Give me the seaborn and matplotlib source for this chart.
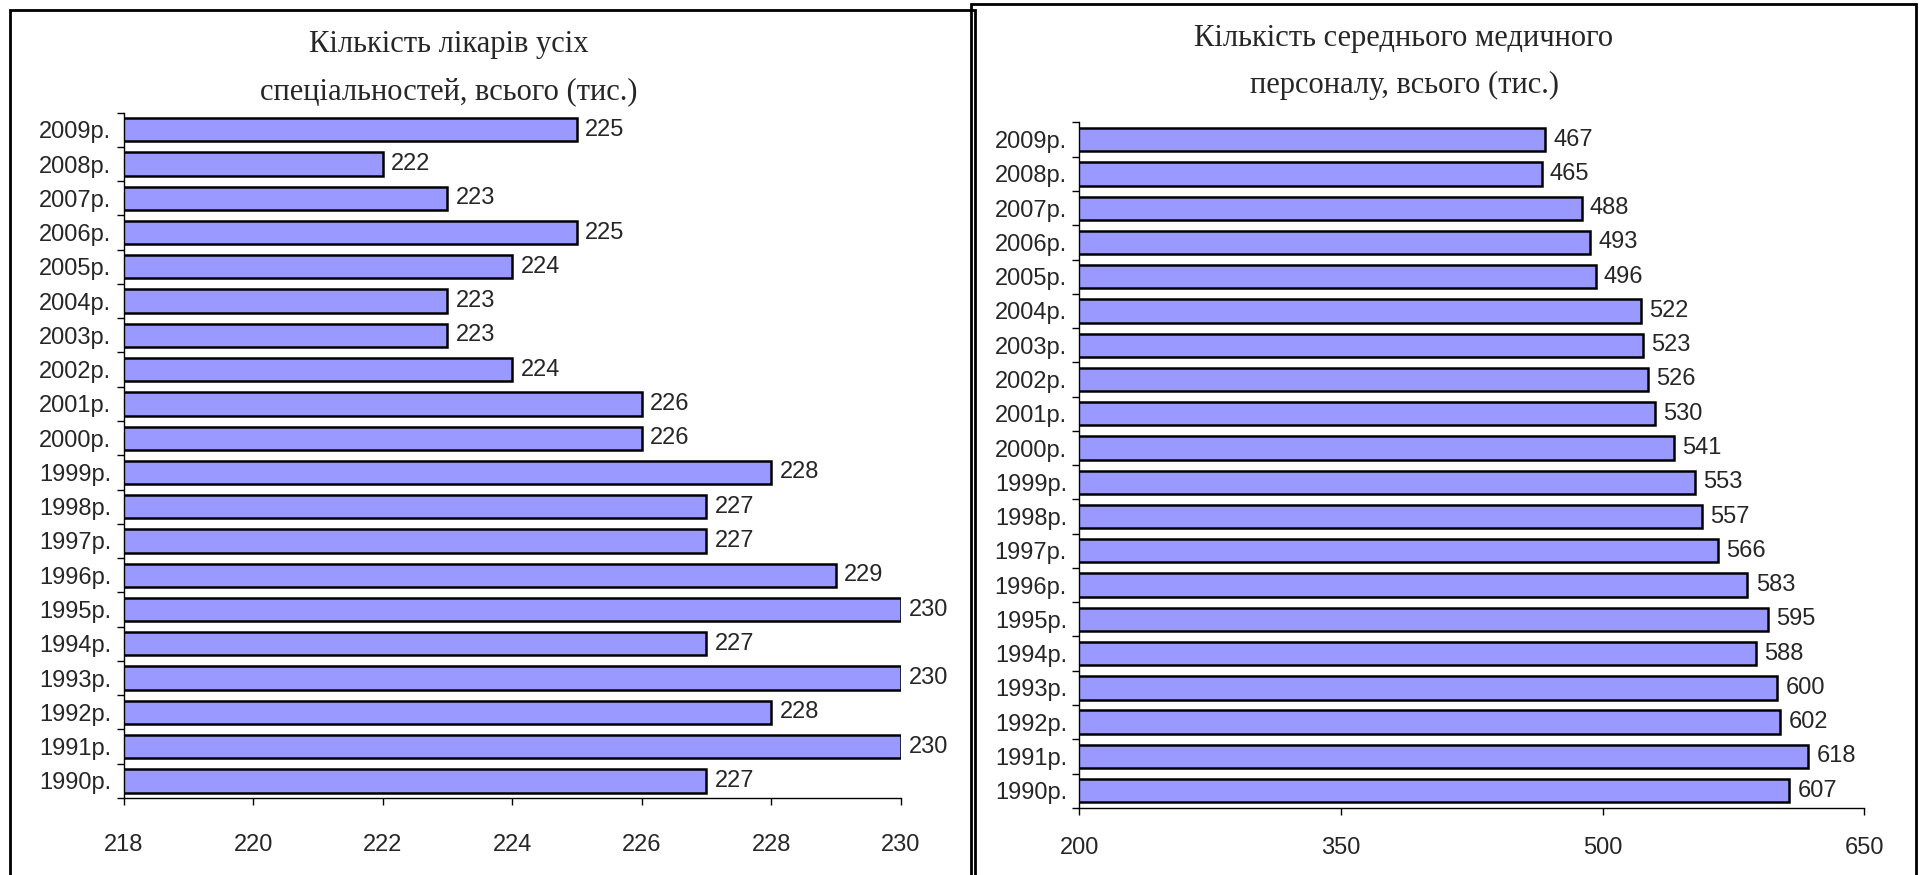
import matplotlib
matplotlib.use("Agg")
import matplotlib.pyplot as plt
import seaborn as sns
import pandas as pd
from matplotlib.patches import Rectangle
from matplotlib.ticker import FixedLocator

years = ["1990р.", "1991р.", "1992р.", "1993р.", "1994р.", "1995р.", "1996р.",
         "1997р.", "1998р.", "1999р.", "2000р.", "2001р.", "2002р.", "2003р.",
         "2004р.", "2005р.", "2006р.", "2007р.", "2008р.", "2009р."]
doctors = [227, 230, 228, 230, 227, 230, 229, 227, 227, 228,
           226, 226, 224, 223, 223, 224, 225, 223, 222, 225]
nurses = [607, 618, 602, 600, 588, 595, 583, 566, 557, 553,
          541, 530, 526, 523, 522, 496, 493, 488, 465, 467]

title_left = "Кількість лікарів усіх\nспеціальностей, всього (тис.)"
title_right = "Кількість середнього медичного\nперсоналу, всього (тис.)"
ticks_left = [218, 220, 222, 224, 226, 228, 230]
ticks_right = [200, 350, 500, 650]

sns.set_theme(style="white")
plt.rcParams["font.family"] = ["Liberation Sans", "DejaVu Sans"]

BAR = "#9999FF"
FS = 17

fig = plt.figure(figsize=(19.19, 8.75), dpi=100)

# outer frames
fig.patches.append(Rectangle((10 / 1919, -0.01), 965 / 1919, 1 - 10 / 875 + 0.01,
                             transform=fig.transFigure, fill=False, lw=2, ec="black"))
fig.patches.append(Rectangle((971 / 1919, -0.01), 945 / 1919, 1 - 4 / 875 + 0.01,
                             transform=fig.transFigure, fill=False, lw=2, ec="black"))


def draw(ax, values, xticks, xpad):
    df = pd.DataFrame({"year": years, "value": values})
    order = years[::-1]
    sns.barplot(data=df, x="value", y="year", order=order, orient="h",
                color=BAR, edgecolor="black", linewidth=1.8, saturation=1,
                width=0.68, ax=ax)
    ax.set_xlim(xticks[0], xticks[-1])
    ax.set_ylim(len(years) - 0.5, -0.5)
    ax.set_xticks(xticks)
    ax.set_xlabel("")
    ax.set_ylabel("")
    for s in ["top", "right"]:
        ax.spines[s].set_visible(False)
    for s in ["left", "bottom"]:
        ax.spines[s].set_color("black")
        ax.spines[s].set_linewidth(1)
    ax.yaxis.set_minor_locator(FixedLocator([i - 0.5 for i in range(len(years) + 1)]))
    ax.tick_params(axis="y", which="major", length=0, pad=9, labelsize=FS)
    ax.tick_params(axis="y", which="minor", left=True, length=5, width=1, color="black")
    ax.tick_params(axis="x", which="major", bottom=True, length=5, width=1,
                   color="black", pad=xpad, labelsize=FS)
    ax.bar_label(ax.containers[0], fmt="%d", padding=6, fontsize=FS)


ax1 = fig.add_axes([0.0644, 0.088, 0.4050, 0.7833])
draw(ax1, doctors, ticks_left, 21)
ax2 = fig.add_axes([0.5625, 0.0768, 0.4089, 0.7832])
draw(ax2, nurses, ticks_right, 16)

fig.text(449 / 1919, 1 - 68 / 875, title_left, ha="center", va="center",
         fontsize=22, family="Liberation Serif", linespacing=1.85)
fig.text(1404 / 1919, 1 - 62 / 875, title_right, ha="center", va="center",
         fontsize=22, family="Liberation Serif", linespacing=1.85)

fig.savefig("out.png", dpi=100)
